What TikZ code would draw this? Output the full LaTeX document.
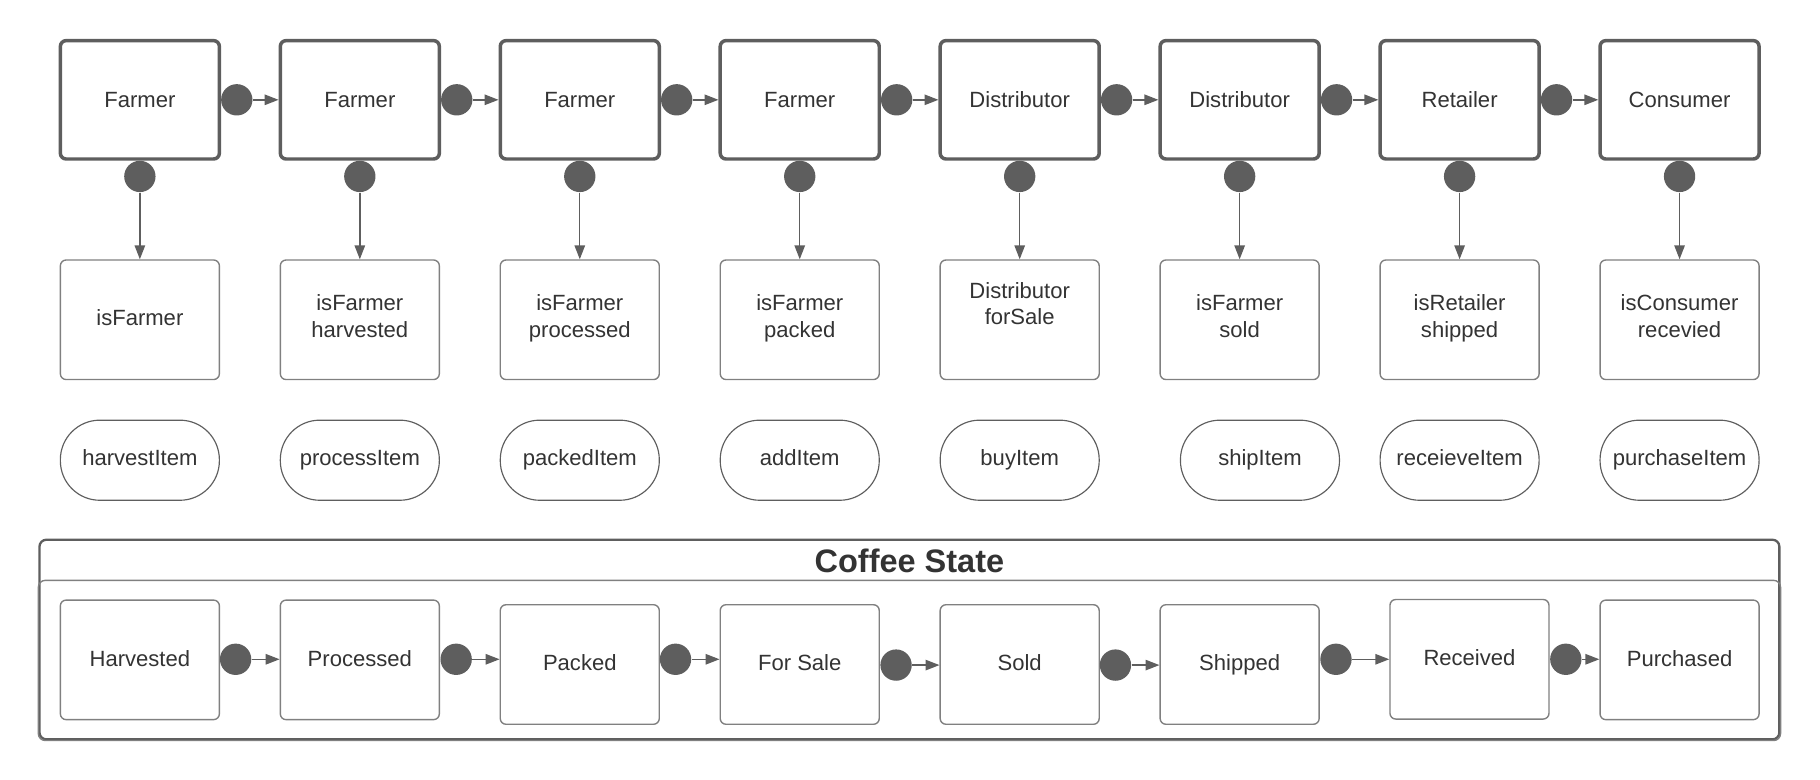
\documentclass[tikz,border=0pt]{standalone}
\usepackage{fontspec}
\setmainfont{Liberation Sans}
\usetikzlibrary{arrows.meta}
\definecolor{dk}{HTML}{5E5E5E}
\definecolor{txtc}{HTML}{333333}
\definecolor{lt}{HTML}{808080}
\begin{document}
\begin{tikzpicture}[x=0.5pt,y=-0.5pt,
  font=\fontsize{9.5}{11.5}\selectfont, text=txtc,
  actor/.style={draw=dk, line width=1.5pt, rounded corners=2.5pt, minimum width=68.5pt, minimum height=51pt, inner sep=0pt, align=center, text height=6.8pt, text depth=0pt},
  cond/.style={draw=lt, line width=0.6pt, rounded corners=2.5pt, minimum width=68.5pt, minimum height=51.5pt, inner sep=0pt, align=center, text height=6.8pt, text depth=1.5pt},
  two/.style={text height=15.3pt, text depth=0pt},
  fn/.style={draw=dk, line width=0.5pt, rounded corners=17pt, minimum width=68.5pt, minimum height=34.5pt, inner sep=0pt, text height=6.8pt, text depth=2.5pt},
  dot/.style={circle, fill=dk, draw=none, minimum size=13.5pt, inner sep=0pt},
  arr/.style={draw=dk, line width=0.6pt, -{Triangle[length=6pt,width=4.5pt]}},
]
\useasboundingbox (0,0) rectangle (1568,672);
% top row actors
\foreach \i/\x/\t in {1/120.5/Farmer,2/310/Farmer,3/499.5/Farmer,4/689/Farmer,5/878.5/Distributor,6/1068/Distributor,7/1257.5/Retailer,8/1447/Consumer}{
  \node[actor] (a\i) at (\x,86) {\t};
  \node[dot] (v\i) at (\x,152) {};
}
\foreach \i/\x in {1/120.5,2/310,3/499.5,4/689,5/878.5,6/1068,7/1257.5}{
  \node[dot] (t\i) at (\x+83.5,86) {};
}
% middle condition boxes
\node[cond] (m1) at (120.5,275.5) {isFarmer};
\node[cond, two] (m2) at (310,275.5) {isFarmer\\harvested};
\node[cond, two] (m3) at (499.5,275.5) {isFarmer\\processed};
\node[cond, two] (m4) at (689,275.5) {isFarmer\\packed};
\node[cond, text height=6.8pt, text depth=2.5pt] (m5) at (878.5,275.5) {Distributor\\forSale};
\node[cond, two] (m6) at (1068,275.5) {isFarmer\\sold};
\node[cond, two] (m7) at (1257.5,275.5) {isRetailer\\shipped};
\node[cond, two] (m8) at (1447,275.5) {isConsumer\\recevied};
% function pills
\node[fn] (p1) at (120.5,396.5) {harvestItem};
\node[fn] (p2) at (310,396.5) {processItem};
\node[fn] (p3) at (499.5,396.5) {packedItem};
\node[fn] (p4) at (689,396.5) {addItem};
\node[fn] (p5) at (878.5,396.5) {buyItem};
\node[fn] (p6) at (1085.5,396.5) {shipItem};
\node[fn] (p7) at (1257.5,396.5) {receieveItem};
\node[fn] (p8) at (1447,396.5) {purchaseItem};
% connectors top
\foreach \i/\j in {1/2,2/3,3/4,4/5,5/6,6/7,7/8}{
  \draw[arr] (t\i) -- (t\i -| a\j.west);
}
\foreach \i in {1,...,8}{
  \draw[arr] (v\i) -- (m\i.north);
}
% coffee state frame
\node[draw=dk, line width=1pt, rounded corners=3pt, minimum width=749.5pt, minimum height=86pt, inner sep=0pt] (frame) at (783.5,551) {};
\draw[lt, line width=0.6pt, rounded corners=3pt] (frame.west |- 0,500) rectangle (frame.south east);
\node[font=\bfseries\fontsize{14}{16}\selectfont] (title) at (783.5,483) {Coffee State};
% states
\node[cond] (s1) at (120.5,568.5) {Harvested};
\node[cond] (s2) at (310,568.5) {Processed};
\node[cond] (s3) at (499.5,572.5) {Packed};
\node[cond] (s4) at (689,572.5) {For Sale};
\node[cond] (s5) at (878.5,572.5) {Sold};
\node[cond] (s6) at (1068,572.5) {Shipped};
\node[cond] (s7) at (1266,568) {Received};
\node[cond] (s8) at (1447,568.5) {Purchased};
\node[dot] (d1) at (203,568) {};
\node[dot] (d2) at (393,568) {};
\node[dot] (d3) at (582,568) {};
\node[dot] (d4) at (772,573) {};
\node[dot] (d5) at (961,573) {};
\node[dot] (d6) at (1151,568) {};
\node[dot] (d7) at (1349,568) {};
\foreach \i/\j in {1/2,2/3,3/4,4/5,5/6,6/7,7/8}{
  \draw[arr] (d\i) -- (d\i -| s\j.west);
}
\end{tikzpicture}
\end{document}
